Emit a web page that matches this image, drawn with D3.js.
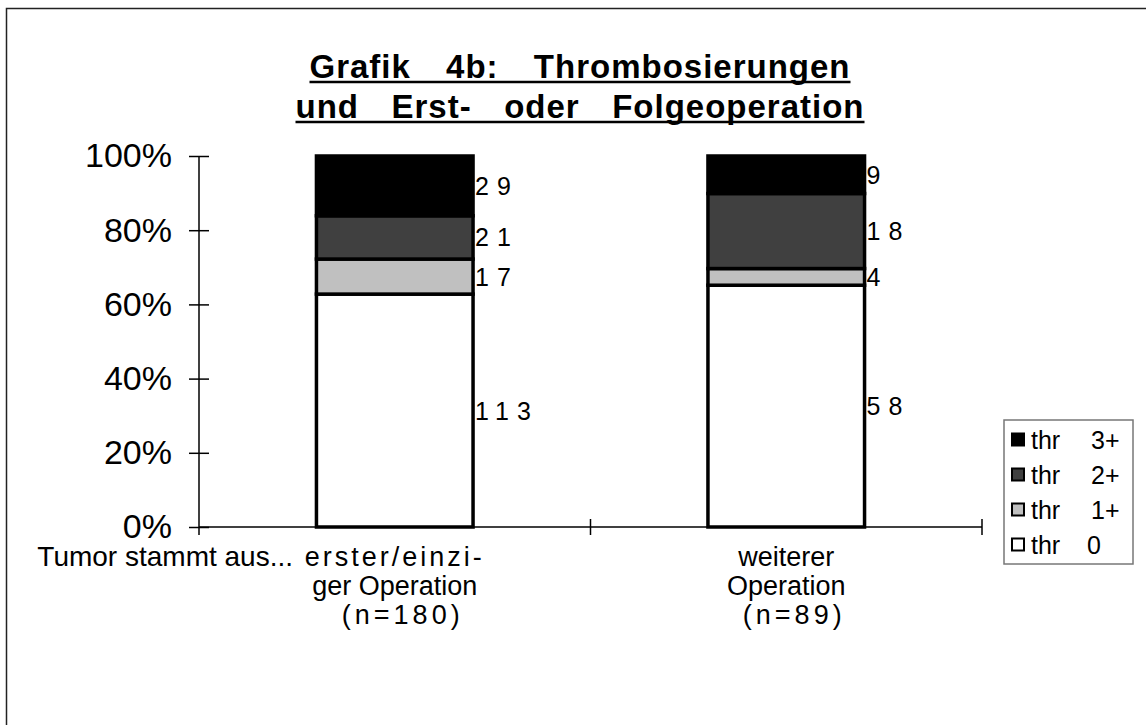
<!DOCTYPE html>
<html>
<head>
<meta charset="utf-8">
<script src="https://cdn.jsdelivr.net/npm/d3@7"></script>
<style>
  body { margin: 0; background: #fff; }
  svg text { font-family: "Liberation Sans", Arial, sans-serif; fill: #000; }
</style>
</head>
<body>
<div id="chart"></div>
<script>
// data
var categories = [ "erster", "weiterer" ];
var categoryLines = [
  [ "erster/einzi-", "ger Operation", "(n=180)" ],
  [ "weiterer", "Operation", "(n=89)" ]
];
var seriesLevels = [ "0", "1+", "2+", "3+" ];
var thr0 = [ 113, 58 ];
var thr1 = [ 17, 4 ];
var thr2 = [ 21, 18 ];
var thr3 = [ 29, 9 ];
var yTicks = [ 0, 0.2, 0.4, 0.6, 0.8, 1 ];
var titleLines = [ "Grafik 4b: Thrombosierungen", "und Erst- oder Folgeoperation" ];

var colors = [ "#ffffff", "#c0c0c0", "#404040", "#000000" ];

var width = 1146, height = 725;
var margin = { left: 199, right: 164, top: 156, bottom: 198 };

var svg = d3.select( "#chart" ).append( "svg" )
    .attr( "width", width )
    .attr( "height", height );

// outer frame (right and bottom fall outside the picture)
svg.append( "rect" )
    .attr( "x", 6.5 ).attr( "y", 8.5 )
    .attr( "width", 1300 ).attr( "height", 900 )
    .attr( "fill", "none" ).attr( "stroke", "#222" ).attr( "stroke-width", 1.5 );

var rows = categories.map( function ( c, i ) {
  return { cat: c, v0: thr0[ i ], v1: thr1[ i ], v2: thr2[ i ], v3: thr3[ i ] };
} );
var keys = [ "v0", "v1", "v2", "v3" ];

var stack = d3.stack().keys( keys ).offset( d3.stackOffsetExpand );
var series = stack( rows );

var x = d3.scaleBand()
    .domain( categories )
    .range( [ margin.left, width - margin.right ] );

var y = d3.scaleLinear()
    .domain( [ 0, 1 ] )
    .range( [ height - margin.bottom, margin.top ] );

var barW = x.bandwidth() * 0.4;

// bars
var g = svg.append( "g" );
series.forEach( function ( s, si ) {
  g.selectAll( ".s" + si )
    .data( s )
    .enter().append( "rect" )
    .attr( "x", function ( d ) { return x( d.data.cat ) + ( x.bandwidth() - barW ) / 2; } )
    .attr( "width", barW )
    .attr( "y", function ( d ) { return y( d[ 1 ] ); } )
    .attr( "height", function ( d ) { return y( d[ 0 ] ) - y( d[ 1 ] ); } )
    .attr( "fill", colors[ si ] )
    .attr( "stroke", "#000" )
    .attr( "stroke-width", 3.5 );
} );

// value labels
series.forEach( function ( s, si ) {
  g.selectAll( ".l" + si )
    .data( s )
    .enter().append( "text" )
    .attr( "x", function ( d ) { return x( d.data.cat ) + ( x.bandwidth() + barW ) / 2 + 2; } )
    .attr( "y", function ( d ) { return ( y( d[ 0 ] ) + y( d[ 1 ] ) ) / 2; } )
    .attr( "dy", "0.36em" )
    .style( "font-size", "25px" )
    .style( "letter-spacing", "8px" )
    .text( function ( d ) { return d.data[ keys[ si ] ]; } );
} );

// y axis
var yAxis = d3.axisLeft( y )
    .tickValues( yTicks )
    .tickFormat( d3.format( ".0%" ) )
    .tickSizeInner( 10 )
    .tickSizeOuter( 0 )
    .tickPadding( 17 );
var ya = svg.append( "g" )
    .attr( "transform", "translate(" + margin.left + ",0)" )
    .call( yAxis );
ya.select( ".domain" ).remove();
ya.selectAll( ".tick line" ).attr( "x1", -10 ).attr( "x2", 10 ).attr( "stroke", "#000" ).attr( "stroke-width", 1.5 );
ya.selectAll( ".tick text" ).style( "font-size", "34px" ).attr( "font-family", null );
svg.append( "line" )
    .attr( "x1", margin.left ).attr( "x2", margin.left )
    .attr( "y1", margin.top ).attr( "y2", height - margin.bottom + 8 )
    .attr( "stroke", "#000" ).attr( "stroke-width", 1.5 );

// x axis line with ticks between categories
var y0 = y( 0 );
svg.append( "line" )
    .attr( "x1", margin.left ).attr( "x2", width - margin.right )
    .attr( "y1", y0 ).attr( "y2", y0 )
    .attr( "stroke", "#000" ).attr( "stroke-width", 1.5 );
svg.selectAll( ".xt" )
    .data( categories.slice( 1 ).concat( [ null ] ) )
    .enter().append( "line" )
    .attr( "x1", function ( d ) { return d ? x( d ) : x.range()[ 1 ]; } )
    .attr( "x2", function ( d ) { return d ? x( d ) : x.range()[ 1 ]; } )
    .attr( "y1", y0 - 8 ).attr( "y2", y0 + 8 )
    .attr( "stroke", "#000" ).attr( "stroke-width", 1.5 );

// category labels
var spacing = [ [ "3px", "0px", "4px" ], [ "0px", "0px", "4px" ] ];
categories.forEach( function ( c, i ) {
  var t = svg.append( "text" )
      .attr( "text-anchor", "middle" )
      .style( "font-size", "27px" );
  categoryLines[ i ].forEach( function ( line, li ) {
    t.append( "tspan" )
      .attr( "x", x( c ) + x.bandwidth() / 2 + ( li === 2 ? 8 : 0 ) )
      .attr( "y", 566 + li * 29 )
      .style( "letter-spacing", spacing[ i ][ li ] )
      .text( line );
  } );
} );
svg.append( "text" )
    .attr( "x", 293 ).attr( "y", 566 )
    .attr( "text-anchor", "end" )
    .style( "font-size", "28px" )
    .text( "Tumor stammt aus..." );

// title, underlined, stretched word gaps
var titleW = [ 541, 569 ];
titleLines.forEach( function ( line, i ) {
  var by = 78 + i * 40;
  var t = svg.append( "text" )
      .attr( "x", 580 ).attr( "y", by )
      .attr( "text-anchor", "middle" )
      .style( "font-size", "33px" )
      .style( "font-weight", "bold" )
      .style( "letter-spacing", "1px" )
      .text( line );
  var w = t.node().getComputedTextLength();
  var gaps = line.split( " " ).length - 1;
  t.style( "word-spacing", Math.max( 0, ( titleW[ i ] - w ) / gaps ) + "px" );
  svg.append( "line" )
    .attr( "x1", 580 - titleW[ i ] / 2 ).attr( "x2", 580 + titleW[ i ] / 2 )
    .attr( "y1", by + 4 ).attr( "y2", by + 4 )
    .attr( "stroke", "#000" ).attr( "stroke-width", 2.5 );
} );

// legend
var lg = svg.append( "g" );
lg.append( "rect" )
    .attr( "x", 1004 ).attr( "y", 420 )
    .attr( "width", 129 ).attr( "height", 144 )
    .attr( "fill", "#fff" ).attr( "stroke", "#777" ).attr( "stroke-width", 1.5 );
var order = [ 3, 2, 1, 0 ];
order.forEach( function ( si, k ) {
  var cy = 440 + k * 35;
  lg.append( "rect" )
    .attr( "x", 1012 ).attr( "y", cy - 6.5 )
    .attr( "width", 12 ).attr( "height", 12 )
    .attr( "fill", colors[ si ] ).attr( "stroke", "#000" ).attr( "stroke-width", 2 );
  lg.append( "text" )
    .attr( "x", 1031 ).attr( "y", cy ).attr( "dy", "0.36em" )
    .style( "font-size", "25px" )
    .text( "thr" );
  lg.append( "text" )
    .attr( "x", si === 0 ? 1087 : 1091 ).attr( "y", cy ).attr( "dy", "0.36em" )
    .style( "font-size", "25px" )
    .text( seriesLevels[ si ] );
} );
</script>
</body>
</html>
